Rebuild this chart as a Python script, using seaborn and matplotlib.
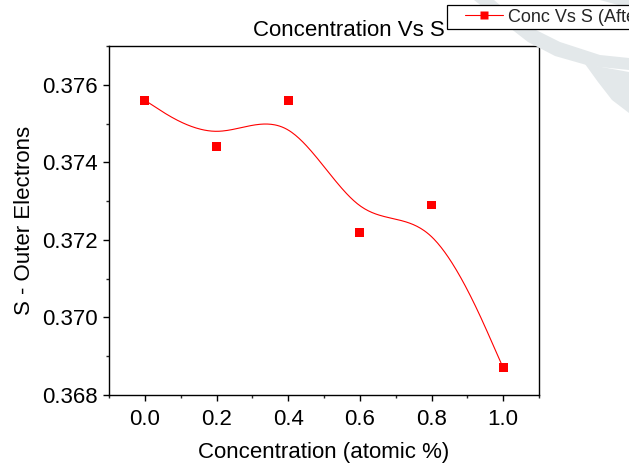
import numpy as np
import pandas as pd
import matplotlib
matplotlib.use("Agg")
import matplotlib.pyplot as plt
from matplotlib.lines import Line2D
from matplotlib.patches import Polygon, Rectangle
from matplotlib.ticker import MultipleLocator, FormatStrFormatter
import seaborn as sns

# ---- data ----
concentration = [0.0, 0.2, 0.4, 0.6, 0.8, 1.0]
s_outer = [0.3756, 0.3744, 0.3756, 0.3722, 0.3729, 0.3687]
x_ticks = [0.0, 0.2, 0.4, 0.6, 0.8, 1.0]
y_ticks = [0.368, 0.370, 0.372, 0.374, 0.376]
title_text = "Concentration Vs S"
legend_label = "Conc Vs S (After)"
x_label = "Concentration (atomic %)"
y_label = "S - Outer Electrons"

# ---- smoothing curve: uniform cubic B-spline, data points as control points,
#      end points repeated so the curve starts/ends on them ----
def bspline(cx, cy, per_seg=60):
    qx = np.concatenate([[cx[0]] * 2, cx, [cx[-1]] * 2]).astype(float)
    qy = np.concatenate([[cy[0]] * 2, cy, [cy[-1]] * 2]).astype(float)
    t = np.linspace(0, 1, per_seg)
    b0 = (1 - t) ** 3 / 6
    b1 = (3 * t ** 3 - 6 * t ** 2 + 4) / 6
    b2 = (-3 * t ** 3 + 3 * t ** 2 + 3 * t + 1) / 6
    b3 = t ** 3 / 6
    xs, ys = [], []
    for i in range(len(qx) - 3):
        xs.append(b0 * qx[i] + b1 * qx[i + 1] + b2 * qx[i + 2] + b3 * qx[i + 3])
        ys.append(b0 * qy[i] + b1 * qy[i + 1] + b2 * qy[i + 2] + b3 * qy[i + 3])
    return np.concatenate(xs), np.concatenate(ys)

sx, sy = bspline(concentration, s_outer)
pts = pd.DataFrame({"x": concentration, "y": s_outer})
curve = pd.DataFrame({"x": sx, "y": sy})

# ---- style ----
sns.set_style("ticks")
plt.rcParams["font.family"] = ["Liberation Sans", "DejaVu Sans"]
plt.rcParams["axes.linewidth"] = 1.0

W, H = 629, 466
fig = plt.figure(figsize=(W / 100, H / 100), dpi=100)
fig.patch.set_facecolor("white")

# faint watermark shapes (figure pixel coordinates)
wm = "#e3e8ea"
def fp(pts_px):
    return [(x / W, 1 - y / H) for x, y in pts_px]
fig.patches.append(Polygon(fp([(474, 0), (494, 0), (520, 22), (560, 42), (600, 55),
                               (629, 58), (629, 70), (590, 66), (555, 56),
                               (528, 42)]),
                           closed=True, transform=fig.transFigure, facecolor=wm,
                           edgecolor="none", zorder=0))
fig.patches.append(Polygon(fp([(585, 64), (629, 72), (629, 113), (612, 100),
                               (598, 82)]),
                           closed=True, transform=fig.transFigure, facecolor=wm,
                           edgecolor="none", zorder=0))
fig.patches.append(Polygon(fp([(600, 0), (629, 0), (629, 8)]),
                           closed=True, transform=fig.transFigure, facecolor=wm,
                           edgecolor="none", zorder=0))

ax = fig.add_axes([109 / W, 1 - 395 / H, (539 - 109) / W, (395 - 46) / H])
ax.set_facecolor("none")

sns.lineplot(data=curve, x="x", y="y", ax=ax, color="#ff0000", linewidth=0.8,
             sort=False, estimator=None)
sns.scatterplot(data=pts, x="x", y="y", ax=ax, marker="s", color="#ff0000",
                s=40, edgecolor="none", zorder=5)

ax.set_xlim(-0.1, 1.1)
ax.set_ylim(0.368, 0.377)
ax.set_xticks(x_ticks)
ax.set_yticks(y_ticks)
ax.xaxis.set_major_formatter(FormatStrFormatter("%.1f"))
ax.yaxis.set_major_formatter(FormatStrFormatter("%.3f"))
ax.xaxis.set_minor_locator(MultipleLocator(0.1))
ax.yaxis.set_minor_locator(MultipleLocator(0.001))
ax.tick_params(axis="both", which="major", direction="out", length=4, width=1.0,
               labelsize=16, color="black", labelcolor="black")
ax.tick_params(axis="both", which="minor", direction="out", length=2.2, width=1.0)
ax.tick_params(axis="x", which="major", pad=6)
ax.tick_params(axis="y", which="major", pad=4)
for sp in ax.spines.values():
    sp.set_visible(True)
    sp.set_color("black")
    sp.set_linewidth(1.0)

ax.set_xlabel(x_label, fontsize=16, labelpad=9, color="black")
ax.set_ylabel(y_label, fontsize=16, labelpad=5, color="black")

fig.text(253 / W, 1 - 36 / H, title_text, fontsize=16, ha="left", va="baseline",
         color="black")

# legend box (partly outside the figure, as in the reference)
box = Rectangle((447 / W, 1 - 29 / H), (660 - 447) / W, 24 / H,
                transform=fig.transFigure, facecolor="white", edgecolor="black",
                linewidth=0.9, zorder=9)
fig.patches.append(box)
handle = Line2D([0], [0], color="#ff0000", linewidth=0.8, marker="s",
                markersize=6.2, markeredgecolor="none", markerfacecolor="#ff0000")
leg = fig.legend([handle], [legend_label], loc="center left",
                 bbox_to_anchor=(465 / W, 1 - 17 / H), fontsize=13,
                 frameon=False, borderpad=0, handlelength=2.1,
                 handletextpad=0.3, borderaxespad=0)
leg.set_zorder(10)

fig.savefig("out.png", dpi=100)
